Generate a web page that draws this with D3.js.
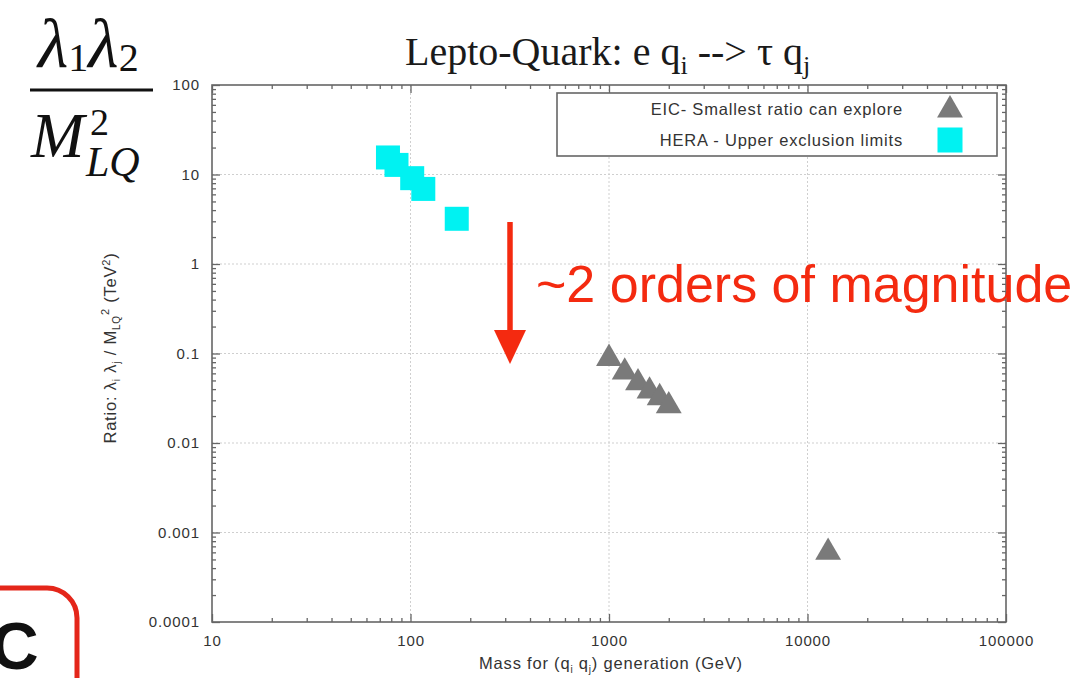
<!DOCTYPE html>
<html>
<head>
<meta charset="utf-8">
<script src="https://cdn.jsdelivr.net/npm/d3@7"></script>
<style>
  html, body { margin: 0; padding: 0; background: #fff; }
  svg { display: block; }
</style>
</head>
<body>
<svg id="chart" width="1088" height="678"></svg>
<script>
// ---- data ----
const heraMass  = [77, 85, 102, 116, 171];
const heraRatio = [15.5, 12.8, 9.1, 6.9, 3.2];
const eicMass   = [1000, 1200, 1400, 1600, 1800, 2000, 12700];
const eicRatio  = [0.088, 0.062, 0.047, 0.038, 0.032, 0.026, 0.0006];
const xTickValues = [10, 100, 1000, 10000, 100000];
const xTickLabels = ["10", "100", "1000", "10000", "100000"];
const yTickValues = [0.0001, 0.001, 0.01, 0.1, 1, 10, 100];
const yTickLabels = ["0.0001", "0.001", "0.01", "0.1", "1", "10", "100"];
const legendLabels = ["EIC- Smallest ratio can explore", "HERA - Upper exclusion limits"];

const svg = d3.select("#chart");
const L = 212, R = 1006, T = 85, B = 622;

const x = d3.scaleLog().domain([10, 100000]).range([L, R]);
const y = d3.scaleLog().domain([0.0001, 100]).range([B, T]);

const sans = "'Liberation Sans', Arial, Helvetica, sans-serif";
const serif = "'Liberation Serif', 'Times New Roman', Times, serif";
const frameColor = "#666";
const textGrey = "#333";

function minorTicks(lo, hi) {
  const out = [];
  for (let d = lo; d < hi; d *= 10) for (let k = 2; k <= 9; k++) out.push(d * k);
  return out;
}
const xMinor = minorTicks(10, 100000);
const yMinor = minorTicks(0.0001, 100);

// grid
const grid = svg.append("g");
grid.selectAll("line.gx").data(xTickValues.slice(1, -1)).enter().append("line")
  .attr("x1", d => x(d)).attr("x2", d => x(d)).attr("y1", T).attr("y2", B)
  .attr("stroke", "#cfcfcf").attr("stroke-width", 1).attr("stroke-dasharray", "2,2");
grid.selectAll("line.gy").data(yTickValues.slice(1, -1)).enter().append("line")
  .attr("y1", d => y(d)).attr("y2", d => y(d)).attr("x1", L).attr("x2", R)
  .attr("stroke", "#cfcfcf").attr("stroke-width", 1).attr("stroke-dasharray", "2,2");

function styleAxis(g) {
  g.select(".domain").remove();
  g.selectAll(".tick line").attr("stroke", frameColor).attr("stroke-width", 1.3);
  g.selectAll(".tick text").attr("fill", textGrey).style("font-family", sans)
    .style("font-size", "15px").style("letter-spacing", "0.9px");
}
const fmtX = d => xTickLabels[xTickValues.indexOf(d)];
const fmtY = d => yTickLabels[yTickValues.indexOf(d)];

svg.append("g").attr("transform", `translate(0,${B})`)
  .call(d3.axisBottom(x).tickValues(xTickValues).tickFormat(fmtX).tickSizeInner(-8).tickPadding(13))
  .call(styleAxis);
svg.append("g").attr("transform", `translate(0,${B})`)
  .call(d3.axisBottom(x).tickValues(xMinor).tickFormat("").tickSizeInner(-4))
  .call(styleAxis);
svg.append("g").attr("transform", `translate(0,${T})`)
  .call(d3.axisTop(x).tickValues(xTickValues).tickFormat("").tickSizeInner(-8))
  .call(styleAxis);
svg.append("g").attr("transform", `translate(0,${T})`)
  .call(d3.axisTop(x).tickValues(xMinor).tickFormat("").tickSizeInner(-4))
  .call(styleAxis);
svg.append("g").attr("transform", `translate(${L},0)`)
  .call(d3.axisLeft(y).tickValues(yTickValues).tickFormat(fmtY).tickSizeInner(-8).tickPadding(12))
  .call(styleAxis);
svg.append("g").attr("transform", `translate(${L},0)`)
  .call(d3.axisLeft(y).tickValues(yMinor).tickFormat("").tickSizeInner(-4))
  .call(styleAxis);
svg.append("g").attr("transform", `translate(${R},0)`)
  .call(d3.axisRight(y).tickValues(yTickValues).tickFormat("").tickSizeInner(-8))
  .call(styleAxis);
svg.append("g").attr("transform", `translate(${R},0)`)
  .call(d3.axisRight(y).tickValues(yMinor).tickFormat("").tickSizeInner(-4))
  .call(styleAxis);

// frame
svg.append("rect").attr("x", L).attr("y", T).attr("width", R - L).attr("height", B - T)
  .attr("fill", "none").attr("stroke", frameColor).attr("stroke-width", 1.6);

// HERA squares
const sq = 24;
const cyan = "#00f2f2";
svg.append("g").selectAll("rect").data(heraMass.map((m, i) => [m, heraRatio[i]])).enter()
  .append("rect")
  .attr("x", d => x(d[0]) - sq / 2).attr("y", d => y(d[1]) - sq / 2)
  .attr("width", sq).attr("height", sq).attr("fill", cyan);

// EIC triangles
const tri = d3.symbol().type(d3.symbolTriangle).size(290);
svg.append("g").selectAll("path").data(eicMass.map((m, i) => [m, eicRatio[i]])).enter()
  .append("path")
  .attr("d", tri)
  .attr("transform", d => `translate(${x(d[0])},${y(d[1])})`)
  .attr("fill", "#7a7a7a");

// legend
const lg = svg.append("g");
lg.append("rect").attr("x", 557).attr("y", 93).attr("width", 440).attr("height", 63)
  .attr("fill", "#fff").attr("stroke", frameColor).attr("stroke-width", 1.6);
lg.selectAll("text").data(legendLabels).enter().append("text")
  .attr("x", 903).attr("y", (d, i) => 115 + i * 31)
  .attr("text-anchor", "end").attr("fill", textGrey)
  .style("font-family", sans).style("font-size", "16.5px").style("letter-spacing", "0.8px").text(d => d);
lg.append("path").attr("d", tri).attr("transform", "translate(950,110)").attr("fill", "#7a7a7a");
lg.append("rect").attr("x", 950 - 12.5).attr("y", 140 - 12.5).attr("width", 25).attr("height", 25).attr("fill", cyan);

// title
const title = svg.append("text").attr("x", 405).attr("y", 65)
  .style("font-family", serif).style("font-size", "40px").attr("fill", "#1a1a1a");
title.append("tspan").text("Lepto-Quark: e q");
title.append("tspan").attr("dy", 9).style("font-size", "26px").text("i");
title.append("tspan").attr("dy", -9).text(" --> \u03C4 q");
title.append("tspan").attr("dy", 9).style("font-size", "26px").text("j");

// x axis label
const xl = svg.append("text").attr("x", 611).attr("y", 669).attr("text-anchor", "middle")
  .style("font-family", sans).style("font-size", "16.5px").style("letter-spacing", "0.8px").attr("fill", textGrey);
xl.append("tspan").text("Mass for (q");
xl.append("tspan").attr("dy", 4).style("font-size", "10px").text("i");
xl.append("tspan").attr("dy", -4).text(" q");
xl.append("tspan").attr("dy", 4).style("font-size", "10px").text("j");
xl.append("tspan").attr("dy", -4).text(") generation (GeV)");

// y axis label
const yl = svg.append("text").attr("transform", "translate(116,348) rotate(-90)")
  .attr("text-anchor", "middle")
  .style("font-family", sans).style("font-size", "16.5px").style("letter-spacing", "0.8px").attr("fill", textGrey);
yl.append("tspan").text("Ratio: \u03BB");
yl.append("tspan").attr("dy", 4).style("font-size", "10px").text("i");
yl.append("tspan").attr("dy", -4).text(" \u03BB");
yl.append("tspan").attr("dy", 4).style("font-size", "10px").text("j");
yl.append("tspan").attr("dy", -4).text(" / M");
yl.append("tspan").attr("dy", 4).style("font-size", "10px").text("LQ");
yl.append("tspan").attr("dy", -11).style("font-size", "11px").text("2");
yl.append("tspan").attr("dy", 7).text(" (TeV");
yl.append("tspan").attr("dy", -6).style("font-size", "11px").text("2");
yl.append("tspan").attr("dy", 6).text(")");

// formula in top-left
const fnum = svg.append("text").attr("x", 38).attr("y", 67)
  .style("font-family", serif).style("font-size", "70px").attr("fill", "#111");
fnum.append("tspan").style("font-style", "italic").text("\u03BB");
fnum.append("tspan").attr("dy", 4).style("font-size", "40px").text("1");
fnum.append("tspan").attr("dy", -4).style("font-style", "italic").text("\u03BB");
fnum.append("tspan").attr("dy", 4).style("font-size", "40px").text("2");
svg.append("line").attr("x1", 30).attr("x2", 153).attr("y1", 90).attr("y2", 90)
  .attr("stroke", "#111").attr("stroke-width", 3);
svg.append("text").attr("x", 31).attr("y", 157)
  .style("font-family", serif).style("font-style", "italic").style("font-size", "64px").attr("fill", "#111")
  .text("M");
svg.append("text").attr("x", 90).attr("y", 135)
  .style("font-family", serif).style("font-size", "38px").attr("fill", "#111").text("2");
svg.append("text").attr("x", 86).attr("y", 176)
  .style("font-family", serif).style("font-style", "italic").style("font-size", "42px").attr("fill", "#111").text("LQ");

// red arrow annotation
const red = "#f42a10";
svg.append("line").attr("x1", 510).attr("x2", 510).attr("y1", 222).attr("y2", 335)
  .attr("stroke", red).attr("stroke-width", 5.5);
svg.append("path").attr("d", "M494,330 L526,330 L510,364 Z").attr("fill", red);
svg.append("text").attr("x", 536).attr("y", 302)
  .style("font-family", sans).style("font-size", "52px").attr("fill", red)
  .text("~2 orders of magnitude");

// "C" label with red rounded box
svg.append("text").attr("x", -9).attr("y", 669)
  .style("font-family", sans).style("font-weight", "bold").style("font-size", "66px").attr("fill", "#111")
  .text("C");
svg.append("rect").attr("x", -60).attr("y", 588).attr("width", 137).attr("height", 140).attr("rx", 30)
  .attr("fill", "none").attr("stroke", "#e4261a").attr("stroke-width", 5);
</script>
</body>
</html>
